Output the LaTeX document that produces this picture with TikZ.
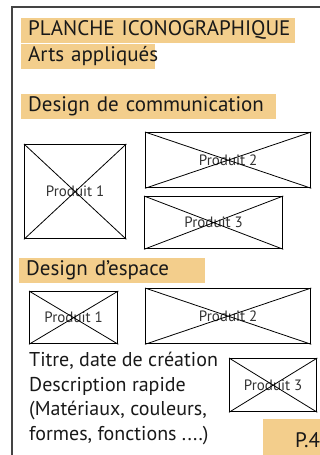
\documentclass[tikz,border=0pt]{standalone}
\usepackage{fontspec}
\setmainfont{PT Sans}
\definecolor{surligne}{HTML}{F3CE8C}
\definecolor{cadre}{HTML}{444444}
\tikzset{
  rubrique/.style={fill=surligne, anchor=north west, inner xsep=7pt, inner ysep=0pt,
    minimum height=25pt, align=left, font=\fontsize{21}{22}\selectfont,
    text height=14.5pt, text depth=4.5pt, text=black!90},
  prod/.style={draw, line width=1.3pt, anchor=north west, inner sep=0pt,
    font=\fontsize{15}{16}\selectfont, text=black!80},
  croix/.style={line width=0.8pt}
}
\begin{document}
\begin{tikzpicture}[x=1pt,y=-1pt]
\useasboundingbox (0,0) rectangle (320,455);
\clip (0,0) rectangle (320,455);
\draw[line width=2pt, cadre] (12,6.5) rectangle (340,470);

\node[rubrique, text width=260pt] (planche) at (21,18) {\mbox{PLANCHE ICONOGRAPHIQUE}};
\node[rubrique, text width=120pt] (arts) at (21,44) {\mbox{Arts appliqués}};
\node[rubrique, text width=241pt] (comm) at (21,94) {\mbox{Design de communication}};

% design de communication
\node[prod, minimum width=101pt, minimum height=94pt] (cprod1) at (24,144) {Produit 1};
\node[prod, minimum width=165pt, minimum height=55pt] (cprod2) at (145,132) {Produit 2};
\node[prod, minimum width=138pt, minimum height=52pt] (cprod3) at (144,196) {Produit 3};
\foreach \p in {cprod1,cprod2,cprod3}
  \draw[croix] (\p.north west) -- (\p.south east) (\p.north east) -- (\p.south west);

\node[rubrique, text width=172pt] (espace) at (19,258) {\mbox{Design d’espace}};

% design d'espace
\node[prod, minimum width=88pt, minimum height=52pt] (eprod1) at (29,291) {Produit 1};
\node[prod, minimum width=165pt, minimum height=55pt] (eprod2) at (145,288) {Produit 2};
\node[prod, minimum width=87pt, minimum height=53pt] (eprod3) at (229,358) {Produit 3};
\foreach \p in {eprod1,eprod2,eprod3}
  \draw[croix] (\p.north west) -- (\p.south east) (\p.north east) -- (\p.south west);

\node[anchor=north west, align=left, inner sep=0pt, font=\fontsize{20}{24.5}\selectfont,
  text=black!90] (legende) at (29,352)
  {Titre, date de création\\Description rapide\\(Matériaux, couleurs,\\formes, fonctions ....)};

\node[fill=surligne, anchor=north west, minimum width=70pt, minimum height=40pt,
  inner sep=0pt] (page) at (263,419) {};
\node[anchor=base west, inner sep=0pt, font=\fontsize{21}{22}\selectfont, text=black!90]
  (numero) at (295,447) {P.4};
\end{tikzpicture}
\end{document}
